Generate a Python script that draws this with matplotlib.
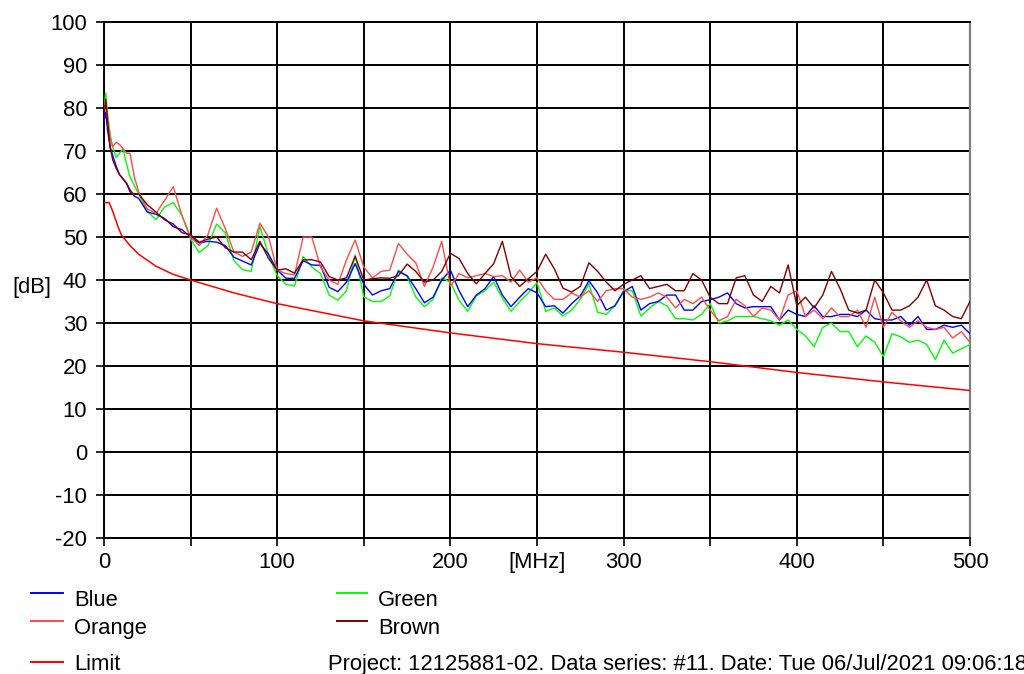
import matplotlib
matplotlib.use("Agg")
import matplotlib.pyplot as plt
from matplotlib.lines import Line2D

plt.rcParams['font.family'] = ['Liberation Sans', 'DejaVu Sans']

# ---------------- data ----------------
freq = [0, 1, 2, 3.5, 5, 7, 9, 11, 13, 15, 17.5] + list(range(20, 501, 5))

blue = [77, 79, 75, 71, 69, 66.5, 64.5, 63.5, 62.5, 61, 59.5, 59,
        55.8, 55.3, 54.3, 52.4, 51.7, 50, 48.6, 49, 48.8, 48, 45.3, 44.4, 43.5, 48.5, 46, 42.3,
        40.4, 40.4, 44.5, 43.5, 43.4, 38.3, 37.3, 39.5, 43.8, 39, 36.5, 37.5, 38, 42, 41, 38, 34.7, 36, 40, 42.3,
        37.5, 33.8, 36.5, 38, 40.8, 36.5, 33.8, 36, 38, 37, 33.8, 34, 32.3, 34.5, 36.3, 39.8, 37, 33, 34, 37.3,
        38.5, 33, 34.5, 35, 36.5, 36.5, 33, 33, 35, 35.4, 36, 37, 34.5, 33.5, 33.8, 33.8, 33.8, 30.7, 33, 32,
        31.5, 34, 31.5, 31.5, 32, 32, 31.5, 33, 31, 30.7, 30.7, 31.5, 29.5, 31.5, 28.5, 28.5, 29.5, 29, 29.5, 27.5]

green = [80, 83.5, 79, 74, 71, 68.5, 69.5, 70.5, 67, 64, 62, 60,
         56, 54, 57, 58, 55, 49.5, 46.4, 48, 53, 51, 44.5, 42.4, 42, 52.5, 45.8, 41,
         39, 38.6, 45.5, 43, 41.5, 36.5, 35.3, 37.5, 45.8, 36.1, 35, 35, 36.3, 42.3, 40.8, 36.1, 33.8, 35.5, 40.5, 39.5,
         35.3, 32.7, 36.3, 37.5, 39.5, 35.8, 32.7, 35, 37, 39.4, 32.7, 33.5, 31.6, 33, 35.5, 39.1, 32.5, 32, 34, 37.5,
         37.5, 31.6, 33.5, 35, 34, 31, 31, 30.7, 32, 34.5, 30, 30.5, 31.5, 31.5, 31.5, 31, 30.5, 29.5, 30.7, 28.5,
         27, 24.5, 29, 30, 28, 28, 24.5, 27, 25.5, 22.2, 27.5, 26.8, 25.5, 26, 25, 21.5, 26, 23, 24, 25]

orange = [79, 82, 78, 73, 71, 72, 71.5, 70.5, 69.5, 69.5, 64, 60.5,
          56.5, 55.5, 58.5, 61.7, 55, 50, 48, 50.5, 56.7, 52, 46.5, 45.5, 46.5, 53.2, 50, 42.3,
          41.5, 41.2, 50, 50, 43, 40, 39, 44.7, 49.3, 43, 40.5, 42, 42.3, 48.5, 46, 44, 38.5, 43, 49, 38.5,
          41.5, 40.5, 41, 41.5, 40.8, 41, 39.5, 42.3, 39.5, 40.5, 37.5, 35.5, 35.5, 37, 36, 37.5, 35, 37.5, 38, 38,
          36, 35.5, 36, 37, 36, 33.5, 35.5, 34.5, 36, 33, 30.5, 31.5, 35.5, 34, 31.5, 33.5, 33, 30.7, 36.5, 37.5,
          31.5, 33, 31, 33.5, 31.5, 31.5, 33, 29, 36, 29, 32.5, 30.5, 29, 30.5, 29, 28.5, 29, 26.5, 28, 25.5]

brown = [78, 82, 77, 71, 68, 66, 64.5, 63.5, 62.5, 60.5, 60, 60,
         57.5, 55.8, 54, 53, 51, 50.5, 48.8, 49.5, 50, 47.5, 46.5, 46.5, 44.7, 49, 45, 42.3,
         42.6, 41.6, 44.7, 44.7, 44.2, 40.8, 40, 40.5, 45.5, 40, 40.3, 40.5, 40.4, 41, 43.7, 42, 39.5, 40, 42, 46.2,
         45, 41.5, 39.1, 41.5, 43.8, 49, 40.8, 38.5, 40.3, 42, 46, 42.6, 38.1, 37.2, 38.5, 44, 42, 39.5, 37.5, 39,
         40, 41, 38, 38.5, 39, 37.5, 37.5, 41.5, 40, 36, 34.5, 34.5, 40.5, 41, 36.5, 35, 38.5, 37, 43.5, 34,
         36, 33.5, 36.5, 42, 38, 33, 32.3, 33, 40, 37, 33, 33, 34, 36, 40, 34, 33, 31.5, 31, 35]

limit_freq = [0, 3, 5, 8, 10, 15, 20, 25, 30, 40, 50, 75, 100, 150, 200, 250, 300, 350, 400, 450, 500]
limit_db = [58, 58, 56, 52.5, 50.5, 48, 46, 44.6, 43.2, 41.3, 40, 37, 34.5, 30.5, 27.7, 25.2, 23.2, 21, 18.5, 16.3, 14.3]

series_colors = {'Blue': '#0000FF', 'Orange': '#FF4A4A', 'Green': '#00FF00',
                 'Brown': '#800000', 'Limit': '#FF0000'}

x_ticks = list(range(0, 501, 50))
x_tick_labels = ['0', '', '100', '', '200', '[MHz]', '300', '', '400', '', '500']
y_ticks = list(range(-20, 101, 10))
y_tick_labels = ['-20', '-10', '0', '10', '20', '30', '40', '50', '60', '70', '80', '90', '100']

footer = 'Project: 12125881-02. Data series: #11. Date: Tue 06/Jul/2021 09:06:18'

# ---------------- figure ----------------
W, H = 1024, 674
fig = plt.figure(figsize=(W / 100, H / 100), dpi=100)
fig.patch.set_facecolor('white')
ax = fig.add_axes([104 / W, 1 - 538 / H, 866 / W, 516 / H])

FS = 15.8
lw = 1.0
ax.plot(freq, green, color=series_colors['Green'], lw=lw, zorder=3)
ax.plot(freq, blue, color=series_colors['Blue'], lw=lw, zorder=4)
ax.plot(freq, orange, color=series_colors['Orange'], lw=lw, zorder=5)
ax.plot(freq, brown, color=series_colors['Brown'], lw=lw, zorder=6)
ax.plot(limit_freq, limit_db, color=series_colors['Limit'], lw=1.1, zorder=7)

ax.set_xlim(0, 500)
ax.set_ylim(-20, 100)
ax.set_xticks(x_ticks)
ax.set_xticklabels(x_tick_labels)
ax.set_yticks(y_ticks)
ax.set_yticklabels(y_tick_labels)
ax.tick_params(axis='both', direction='out', length=6, width=1.2, colors='black',
               labelsize=FS)
ax.tick_params(axis='y', pad=6)
ax.tick_params(axis='x', pad=4)
ax.grid(True, color='black', lw=1.4, zorder=1)
ax.set_axisbelow(True)
for s in ['left', 'bottom', 'top']:
    ax.spines[s].set_color('black')
    ax.spines[s].set_linewidth(1.4)
ax.spines['right'].set_color('#808080')
ax.spines['right'].set_linewidth(1.6)

fig.text(12 / W, 1 - 293 / H, '[dB]', fontsize=FS, va='baseline', ha='left')

# ---------------- legend (manual, like the original) ----------------
leg_items = [('Blue', 31, 63, 593, 74, 606),
             ('Orange', 31, 63, 621, 74, 634),
             ('Green', 337, 367, 593, 378, 606),
             ('Brown', 337, 367, 621, 378, 634),
             ('Limit', 31, 63, 662, 74, 670)]
for name, x0, x1, yl, xt, yt in leg_items:
    fig.add_artist(Line2D([x0 / W, x1 / W], [1 - yl / H, 1 - yl / H],
                          transform=fig.transFigure, color=series_colors[name], lw=1.4))
    fig.text(xt / W, 1 - yt / H, name, fontsize=FS, va='baseline', ha='left')

fig.text(328 / W, 1 - 670 / H, footer, fontsize=FS, va='baseline', ha='left')

fig.savefig('out.png', dpi=100, facecolor='white')
